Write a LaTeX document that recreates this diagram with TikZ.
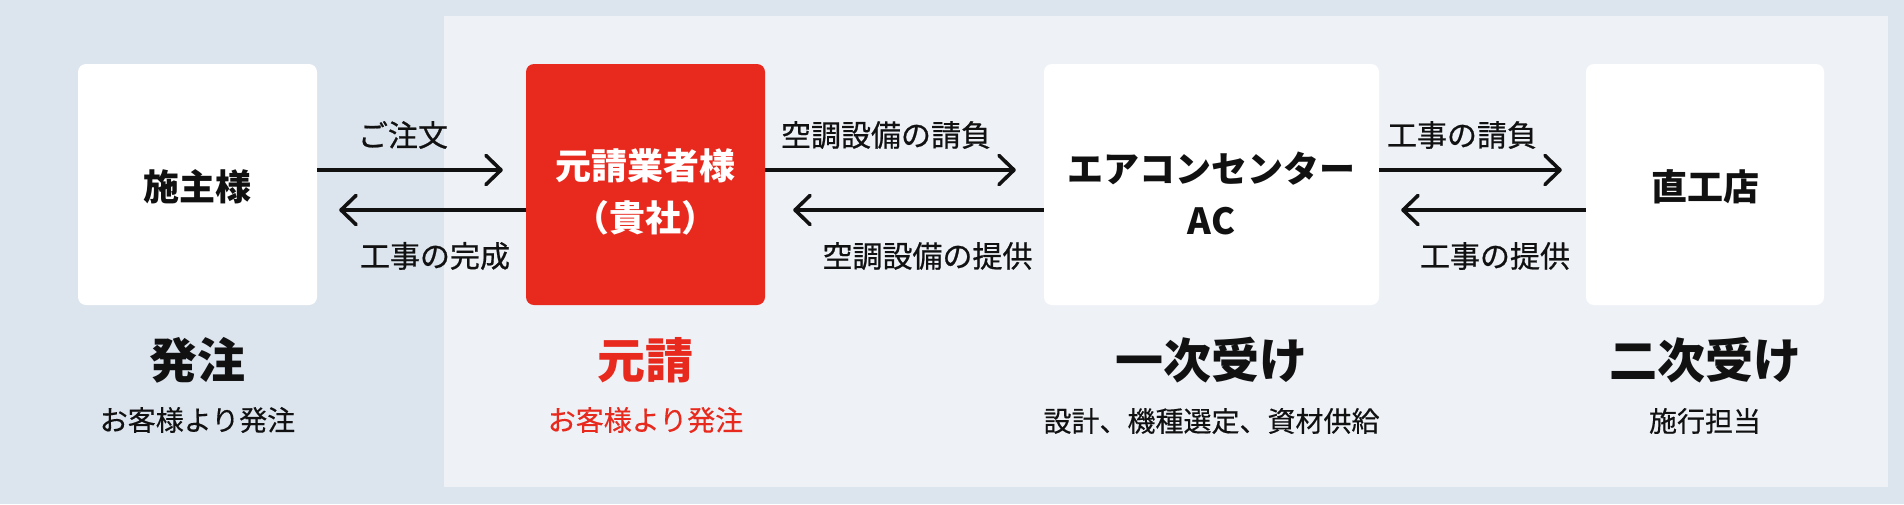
\documentclass[tikz,border=0pt]{standalone}
\usepackage{fontspec}
\setmainfont{Noto Sans CJK JP}
\newfontfamily\midfont[FakeBold=0.7]{Noto Sans CJK JP}
\newfontfamily\subfont[FakeBold=0.35]{Noto Sans CJK JP}
\usetikzlibrary{arrows.meta}
\definecolor{outerbg}{HTML}{DCE4ED}
\definecolor{innerbg}{HTML}{EEF2F7}
\definecolor{accent}{HTML}{E8291E}
\definecolor{ink}{HTML}{111111}
\begin{document}
\begin{tikzpicture}[x=1pt,y=-1pt,
  card/.style={rectangle, rounded corners=8pt, fill=white, draw=none, minimum height=241pt, inner sep=0pt},
  cardtxt/.style={inner sep=0pt, align=center, text=ink, font=\fontsize{36}{52}\selectfont\bfseries},
  flowlbl/.style={inner sep=0pt, text=ink, font=\midfont\fontsize{30}{36}\selectfont},
  heading/.style={inner sep=0pt, text=ink, font=\fontsize{48}{56}\selectfont\bfseries},
  subtxt/.style={inner sep=0pt, text=ink, font=\subfont\fontsize{28}{34}\selectfont},
  flow/.style={draw=ink, line width=3.6pt, -{Straight Barb[length=15pt,width=29pt,round]}}
]
\useasboundingbox (0,0) rectangle (1904,504);
\fill[outerbg] (0,0) rectangle (1904,504);
\fill[innerbg] (444,16) rectangle (1888,487);

% cards
\node[card, minimum width=239pt] (b1) at (197.5,184.5) {};
\node[card, minimum width=239pt, fill=accent] (b2) at (645.5,184.5) {};
\node[card, minimum width=335pt] (b3) at (1211.5,184.5) {};
\node[card, minimum width=238pt] (b4) at (1705,184.5) {};

\node[cardtxt] (t1) at (197.5,187) {施主様};
\node[cardtxt, text=white] (t2) at (645.5,192) {元請業者様\\（貴社）};
\node[cardtxt] (t3) at (1211.5,193) {エアコンセンター\\AC};
\node[cardtxt] (t4) at (1705,187) {直工店};

% arrows
\draw[flow] ([yshift=14.5pt]b1.east) -- ([yshift=14.5pt,xshift=-23pt]b2.west);
\draw[flow] ([yshift=-25.5pt]b2.west) -- ([yshift=-25.5pt,xshift=22pt]b1.east);
\draw[flow] ([yshift=14.5pt]b2.east) -- ([yshift=14.5pt,xshift=-28pt]b3.west);
\draw[flow] ([yshift=-25.5pt]b3.west) -- ([yshift=-25.5pt,xshift=28pt]b2.east);
\draw[flow] ([yshift=14.5pt]b3.east) -- ([yshift=14.5pt,xshift=-24pt]b4.west);
\draw[flow] ([yshift=-25.5pt]b4.west) -- ([yshift=-25.5pt,xshift=22pt]b3.east);

% arrow labels
\node[flowlbl] (l1) at (403,135) {ご注文};
\node[flowlbl] (l2) at (435,256) {工事の完成};
\node[flowlbl] (l3) at (886,135) {空調設備の請負};
\node[flowlbl] (l4) at (927.5,256) {空調設備の提供};
\node[flowlbl] (l5) at (1462,135) {工事の請負};
\node[flowlbl] (l6) at (1495,256) {工事の提供};

% headings
\node[heading] (h1) at (197.5,360) {発注};
\node[heading, text=accent] (h2) at (645.5,360) {元請};
\node[heading] (h3) at (1211.5,360) {一次受け};
\node[heading] (h4) at (1705,360) {二次受け};

\node[subtxt] (s1) at (197.5,420) {お客様より発注};
\node[subtxt, text=accent] (s2) at (645.5,420) {お客様より発注};
\node[subtxt] (s3) at (1211.5,421) {設計、機種選定、資材供給};
\node[subtxt] (s4) at (1705,421) {施行担当};
\end{tikzpicture}
\end{document}
